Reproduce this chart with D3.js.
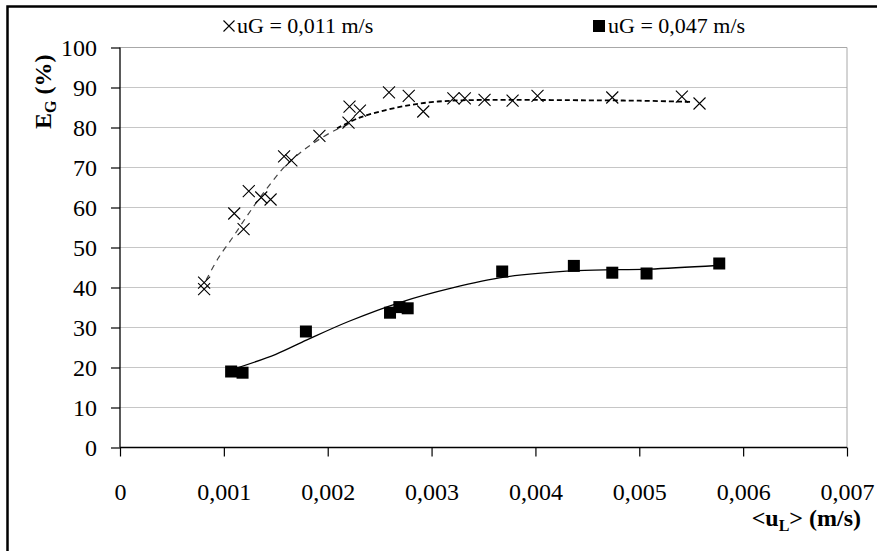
<!DOCTYPE html>
<html><head><meta charset="utf-8">
<script src="https://cdn.jsdelivr.net/npm/d3@7"></script>
<style>body{margin:0;background:#fff}svg{display:block}text{font-family:"Liberation Serif","Times New Roman",serif}</style>
</head><body><div id="chart"></div>
<script>
// ---- data ----
const seriesALabel = "uG = 0,011 m/s";
const seriesBLabel = "uG = 0,047 m/s";
const seriesAX = [0.00081,0.00081,0.00110,0.00119,0.00124,0.00136,0.00145,0.00158,0.00165,0.00192,0.00220,0.00221,0.00231,0.00259,0.00278,0.00292,0.00321,0.00332,0.00351,0.00378,0.00402,0.00474,0.00541,0.00558];
const seriesAY = [41.2,39.6,58.5,54.6,64.1,62.5,62.0,72.8,71.8,77.9,81.2,85.2,84.2,88.8,87.9,84.0,87.3,87.3,86.9,86.7,87.9,87.5,87.7,86.0];
const seriesBX = [0.00107,0.00118,0.00179,0.00260,0.00269,0.00277,0.00368,0.00437,0.00474,0.00507,0.00577];
const seriesBY = [19.0,18.7,29.0,33.7,35.1,34.8,44.0,45.4,43.7,43.5,46.0];
// trend curves
const trendA1X = [0.00083,0.00095,0.00109,0.00120,0.00132,0.00146,0.00160,0.00178,0.00196,0.00210,0.00222];
const trendA1Y = [41.9,47.5,52.7,57.0,61.5,66.3,70.6,74.6,77.7,79.7,81.0];
const trendA2X = [0.00209,0.00230,0.00255,0.00279,0.00302,0.00330,0.00380,0.00450,0.00500,0.00549];
const trendA2Y = [79.8,82.4,84.3,85.6,86.4,86.8,86.9,86.8,86.7,86.4];
const trendBX = [0.00114,0.00150,0.00180,0.00220,0.00270,0.00320,0.00370,0.00440,0.00510,0.00575];
const trendBY = [20.0,23.3,26.9,31.5,36.3,39.9,42.6,44.2,44.6,45.5];
const xTicks = [0,0.001,0.002,0.003,0.004,0.005,0.006,0.007];
const xTickLabels = ["0","0,001","0,002","0,003","0,004","0,005","0,006","0,007"];
const yTicks = [0,10,20,30,40,50,60,70,80,90,100];

const W = 877, H = 551;
const svg = d3.select("#chart").append("svg").attr("width", W).attr("height", H);
const x = d3.scaleLinear().domain([0, 0.007]).range([120, 847]);
const y = d3.scaleLinear().domain([0, 100]).range([447.5, 47.5]);

// outer frame
svg.append("rect").attr("x", 7.5).attr("y", 6.5).attr("width", 900).attr("height", 600)
  .attr("fill", "none").attr("stroke", "#000").attr("stroke-width", 2.5);

// gridlines
svg.append("g").selectAll("line").data(yTicks.filter(d => d > 0)).join("line")
  .attr("x1", x(0)).attr("x2", x(0.007)).attr("y1", d => y(d)).attr("y2", d => y(d))
  .attr("stroke", "#c6c6c6").attr("stroke-width", 1);
svg.append("line").attr("x1", x(0.007)).attr("x2", x(0.007)).attr("y1", y(100)).attr("y2", y(0))
  .attr("stroke", "#a8a8a8").attr("stroke-width", 1);
svg.append("line").attr("x1", x(0)).attr("x2", x(0.007)).attr("y1", y(100)).attr("y2", y(100))
  .attr("stroke", "#a8a8a8").attr("stroke-width", 1);

// axes
const yAxis = svg.append("g").attr("transform", `translate(${x(0)},0)`)
  .call(d3.axisLeft(y).tickValues(yTicks).tickSize(9).tickPadding(14).tickFormat(d3.format("d")));
const xAxis = svg.append("g").attr("transform", `translate(0,${y(0)})`)
  .call(d3.axisBottom(x).tickValues(xTicks).tickSize(9).tickFormat((d, i) => xTickLabels[i]));
[yAxis, xAxis].forEach(g => {
  g.select(".domain").attr("stroke", "#000").attr("stroke-width", 1.3);
  g.selectAll(".tick line").attr("stroke", "#000").attr("stroke-width", 1.2);
  g.selectAll("text").attr("font-family", "Liberation Serif").attr("font-size", 24).attr("fill", "#000");
});
xAxis.select(".domain").attr("d", `M${x(0)},0H${x(0.007)}`);
yAxis.select(".domain").attr("d", `M0,${y(0)}V${y(100)}`);
xAxis.selectAll("text").attr("y", 52).attr("dy", 0);
yAxis.selectAll("text").attr("dy", "0.34em");

// trend lines
const line = d3.line().x(d => x(d[0])).y(d => y(d[1])).curve(d3.curveCatmullRom);
svg.append("path").datum(trendA1X.map((v, i) => [v, trendA1Y[i]])).attr("d", line)
  .attr("fill", "none").attr("stroke", "#444").attr("stroke-width", 1.2).attr("stroke-dasharray", "6,5");
svg.append("path").datum(trendA2X.map((v, i) => [v, trendA2Y[i]])).attr("d", line)
  .attr("fill", "none").attr("stroke", "#000").attr("stroke-width", 1.8).attr("stroke-dasharray", "5,3");
svg.append("path").datum(trendBX.map((v, i) => [v, trendBY[i]])).attr("d", line)
  .attr("fill", "none").attr("stroke", "#000").attr("stroke-width", 1.3);

// markers
const cross = s => `M${-s},${-s}L${s},${s}M${-s},${s}L${s},${-s}`;
svg.append("g").selectAll("path").data(seriesAX.map((v, i) => [v, seriesAY[i]])).join("path")
  .attr("transform", d => `translate(${x(d[0])},${y(d[1])})`).attr("d", cross(6))
  .attr("stroke", "#000").attr("stroke-width", 1.1).attr("fill", "none");
svg.append("g").selectAll("rect").data(seriesBX.map((v, i) => [v, seriesBY[i]])).join("rect")
  .attr("x", d => x(d[0]) - 6).attr("y", d => y(d[1]) - 6).attr("width", 12).attr("height", 12)
  .attr("fill", "#000");

// legend
svg.append("path").attr("transform", "translate(229,26)").attr("d", cross(5.5))
  .attr("stroke", "#000").attr("stroke-width", 1.1).attr("fill", "none");
svg.append("text").attr("x", 237).attr("y", 33).attr("font-size", 22).text(seriesALabel);
svg.append("rect").attr("x", 593).attr("y", 20).attr("width", 12).attr("height", 12).attr("fill", "#000");
svg.append("text").attr("x", 608).attr("y", 33).attr("font-size", 22).text(seriesBLabel);

// axis titles
const xt = svg.append("text").attr("x", 861).attr("y", 526).attr("text-anchor", "end")
  .attr("font-size", 24).attr("font-weight", "bold");
xt.append("tspan").text("<u");
xt.append("tspan").attr("font-size", 16).attr("dy", 5).text("L");
xt.append("tspan").attr("dy", -5).text("> (m/s)");
const yt = svg.append("text").attr("transform", "translate(51,129) rotate(-90)")
  .attr("font-size", 24).attr("font-weight", "bold");
yt.append("tspan").text("E");
yt.append("tspan").attr("font-size", 16).attr("dy", 5).text("G");
yt.append("tspan").attr("dy", -5).text(" (%)");
</script></body></html>
